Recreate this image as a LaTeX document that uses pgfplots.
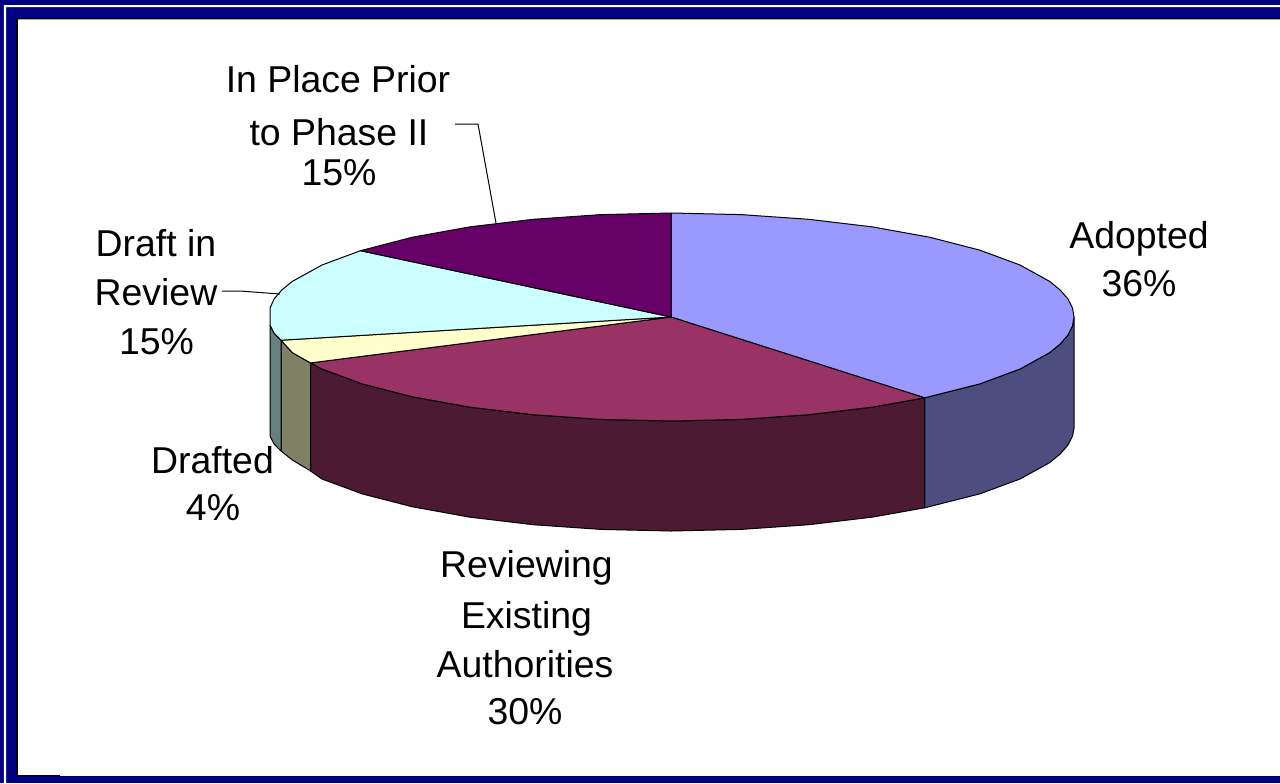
\documentclass[border=0pt]{standalone}
\usepackage{fontspec}
\setmainfont{Liberation Sans}
\usepackage{pgfplots}
\pgfplotsset{compat=1.18}
\definecolor{frameblue}{RGB}{0,0,128}
\definecolor{adopted}{RGB}{153,153,255}
\definecolor{adoptedside}{RGB}{77,77,128}
\definecolor{reviewing}{RGB}{153,51,102}
\definecolor{reviewingside}{RGB}{77,26,51}
\definecolor{drafted}{RGB}{255,255,204}
\definecolor{draftedside}{RGB}{128,128,102}
\definecolor{inreview}{RGB}{204,255,255}
\definecolor{inreviewside}{RGB}{102,128,128}
\definecolor{inplace}{RGB}{102,0,102}
\tikzset{lbl/.style={font=\fontsize{18.7pt}{22pt}\selectfont,inner sep=0pt,anchor=base}}
\pgfplotsset{slice/.style={draw=black,line width=0.5pt,line join=round}}
\begin{document}
\begin{tikzpicture}
\begin{axis}[
    scale only axis,
    width=640pt,
    height=391.5pt,
    xmin=0, xmax=1280,
    ymin=0, ymax=783,
    y dir=reverse,
    hide axis,
]
% frame
\addplot[draw=none,fill=frameblue] coordinates {(0,0)(1280,0)(1280,783)(0,783)} --cycle;
\addplot[draw=none,fill=white] coordinates {(4,5)(1280,5)(1280,7)(6,7)(6,783)(4,783)} --cycle;
\addplot[draw=none,fill=black] coordinates {(16,17.5)(1280,17.5)(1280,776)(16,776)} --cycle;
\addplot[draw=none,fill=gray!70] coordinates {(17.5,18.5)(1280,18.5)(1280,776)(17.5,776)} --cycle;
\addplot[draw=none,fill=white] coordinates {(17.5,19.5)(1280,19.5)(1280,776)(17.5,776)} --cycle;
\addplot[draw=none,fill=black] coordinates {(17.5,775.3)(60,775.3)(60,776)(17.5,776)} --cycle;

% sides, depth 110
\addplot[slice,fill=adoptedside] coordinates {
(1074,317)(1072.5,326.1)(1067.9,335.1)(1060.3,343.9)(1049.7,352.6)(1020,369)(979.7,383.9)(924.6,397.8)
(924.6,507.8)(979.7,493.9)(1020,479)(1049.7,462.6)(1060.3,453.9)(1067.9,445.1)(1072.5,436.1)(1074,428)} --cycle;
\addplot[slice,fill=reviewingside] coordinates {
(924.6,397.8)(872.5,407.1)(808.8,414.7)(741,419.4)(671,421)(601,419.4)(533.2,414.7)(469.5,407.1)(412,396.7)(362.3,383.9)(322,369)(310.5,362.9)
(310.5,470.9)(322,479)(362.3,493.9)(412,506.7)(469.5,517.1)(533.2,524.7)(601,529.4)(671,531)(741,529.4)(808.8,524.7)(872.5,517.1)(924.6,507.8)} --cycle;
\addplot[slice,fill=draftedside] coordinates {
(310.5,362.9)(292.3,352.6)(281,340.2)(281,451)(292.3,460)(310.5,470.9)} --cycle;
\addplot[slice,fill=inreviewside] coordinates {
(281,340.2)(274.1,333.1)(270,325)(270,436)(274.1,444)(281,451)} --cycle;

% top slices
\addplot[slice,fill=adopted] coordinates {
(671,317)(671,213)(741,214.6)(808.8,219.3)(872.5,226.9)(930,237.3)(979.7,250.1)(1020,265)(1049.7,281.4)(1060.3,290.1)(1067.9,298.9)(1072.5,307.9)(1074,317)
(1072.5,326.1)(1067.9,335.1)(1060.3,343.9)(1049.7,352.6)(1020,369)(979.7,383.9)(924.6,397.8)} --cycle;
\addplot[slice,fill=reviewing] coordinates {
(671,317)(924.6,397.8)(872.5,407.1)(808.8,414.7)(741,419.4)(671,421)(601,419.4)(533.2,414.7)(469.5,407.1)(412,396.7)(362.3,383.9)(322,369)(310.5,362.9)} --cycle;
\addplot[slice,fill=drafted] coordinates {
(671,317)(310.5,362.9)(292.3,352.6)(281,340.2)} --cycle;
\addplot[slice,fill=inreview] coordinates {
(671,317)(281,340.2)(274.1,333.1)(270,325)(270,308)(274.1,298.9)(281.7,290.1)(292.3,281.4)(322,265)(360.5,250.7)} --cycle;
\addplot[slice,fill=inplace] coordinates {
(671,317)(360.5,250.7)(412,237.3)(469.5,226.9)(533.2,219.3)(601,214.6)(671,213)} --cycle;

% leader lines
\addplot[black,line width=0.5pt] coordinates {(455,124)(478,124)(496,223)};
\addplot[black,line width=0.5pt] coordinates {(222,291)(240,291)(280,294)};

% labels
\node[lbl] at (axis cs:338,92) {In Place Prior};
\node[lbl] at (axis cs:339,145) {to Phase II};
\node[lbl] at (axis cs:339,185) {15\%};
\node[lbl] at (axis cs:156,256) {Draft in};
\node[lbl] at (axis cs:156,305) {Review};
\node[lbl] at (axis cs:156.5,354) {15\%};
\node[lbl] at (axis cs:212.5,473) {Drafted};
\node[lbl] at (axis cs:213,520) {4\%};
\node[lbl] at (axis cs:526.5,577) {Reviewing};
\node[lbl] at (axis cs:526.5,628) {Existing};
\node[lbl] at (axis cs:525,677) {Authorities};
\node[lbl] at (axis cs:525,724) {30\%};
\node[lbl] at (axis cs:1139,248) {Adopted};
\node[lbl] at (axis cs:1139,296) {36\%};
\end{axis}
\end{tikzpicture}
\end{document}
